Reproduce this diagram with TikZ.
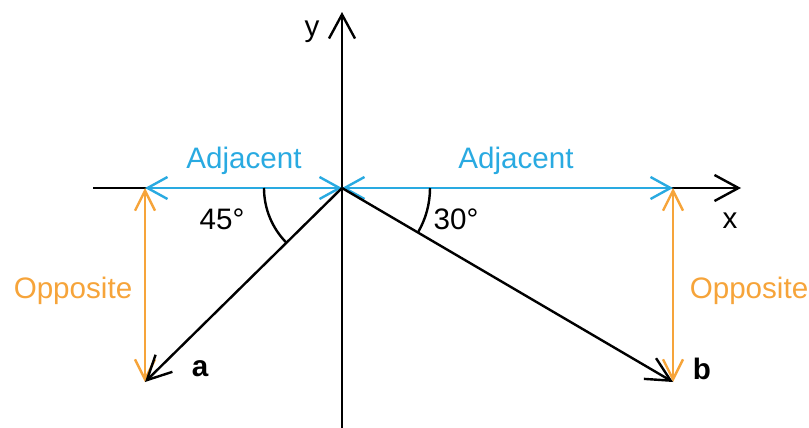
\documentclass[tikz,border=0pt]{standalone}
\usepackage{fontspec}
\setmainfont{Liberation Sans}
\usepackage{tikz}
\usetikzlibrary{arrows.meta}
\definecolor{adjblue}{RGB}{41, 170, 225}
\definecolor{opporange}{RGB}{246, 164, 58}

\begin{document}
\begin{tikzpicture}[
    x=0.5pt, y=-0.5pt,
    font=\fontsize{14.8}{17}\selectfont,
    axis/.style={line width=1.2pt, draw=black, -{Straight Barb[length=12pt, width=13pt, line width=1.2pt]}},
    vec/.style={line width=1.2pt, draw=black, -{Straight Barb[length=12pt, width=12pt, line width=1.2pt]}},
    adj/.style={line width=1.2pt, draw=adjblue, {Straight Barb[length=10pt, width=11pt, line width=1.2pt]}-{Straight Barb[length=10pt, width=11pt, line width=1.2pt]}},
    opp/.style={line width=1.2pt, draw=opporange, {Straight Barb[length=10pt, width=10pt, line width=1.2pt]}-{Straight Barb[length=10pt, width=10pt, line width=1.2pt]}},
    anglearc/.style={line width=1.2pt, draw=black},
    lbl/.style={inner sep=1pt}
]
\useasboundingbox (0,0) rectangle (809,428);

% Points
\coordinate (O) at (342,188);
\coordinate (xl) at (93,188);
\coordinate (xr) at (741,188);
\coordinate (yb) at (342,428);
\coordinate (yt) at (342,12);
\coordinate (al) at (145,188);
\coordinate (ar) at (673,188);
\coordinate (a) at (145,382);
\coordinate (b) at (673,382);

% Axes
\draw[axis] (xl) -- (xr);
\draw[axis] (yb) -- (yt);
\node[lbl] (ylbl) at (312,32) {y};
\node[lbl] (xlbl) at (730,221) {x};

% Adjacent sides
\draw[adj] (al) -- (O);
\draw[adj] (O) -- (ar);
\node[lbl, text=adjblue] (adjl) at (244,161) {Adjacent};
\node[lbl, text=adjblue] (adjr) at (516,161) {Adjacent};

% Opposite sides
\draw[opp] (al) -- (a);
\draw[opp] (ar) -- (b);
\node[lbl, text=opporange] (oppl) at (73,291) {Opposite};
\node[lbl, text=opporange] (oppr) at (749,291) {Opposite};

% Vectors
\draw[vec] (O) -- (a);
\draw[vec] (O) -- (b);
\node[lbl, font=\fontsize{14.8}{17}\selectfont\bfseries] (alab) at (200,369) {a};
\node[lbl, font=\fontsize{14.8}{17}\selectfont\bfseries] (blab) at (702,369) {b};

% Angles
\draw[anglearc] (O) ++(180:78) arc[start angle=180, end angle=135, radius=78];
\draw[anglearc] (O) ++(0:88) arc[start angle=0, end angle=30, radius=88];
\node[lbl] (ang45) at (222,219) {45°};
\node[lbl] (ang30) at (456,219) {30°};

\end{tikzpicture}
\end{document}
